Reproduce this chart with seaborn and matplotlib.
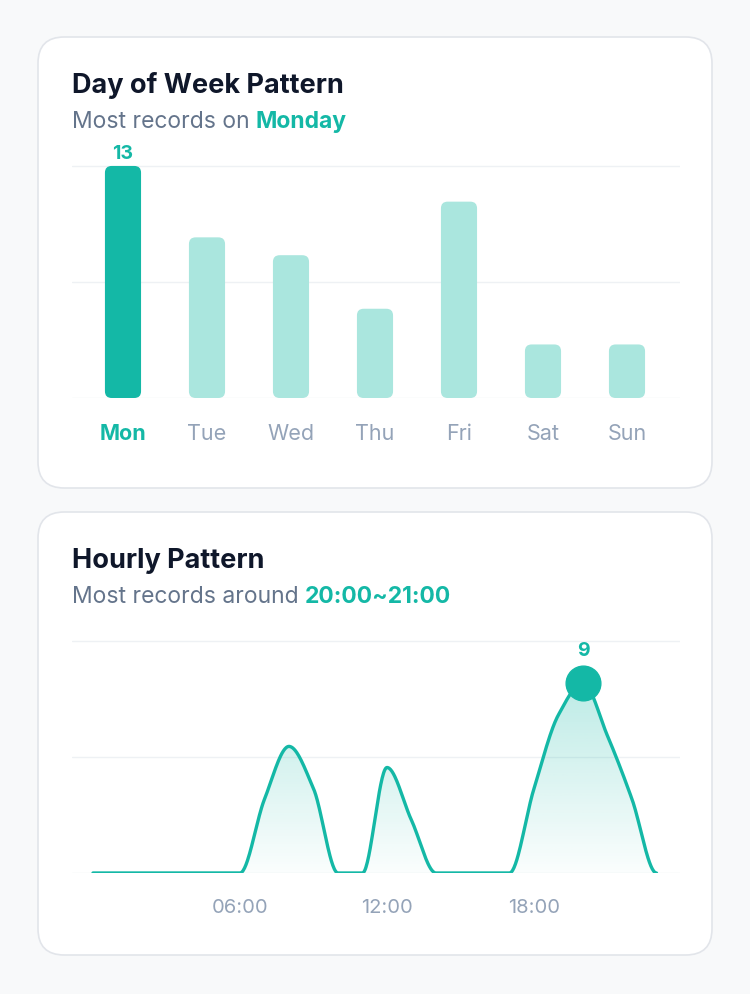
import numpy as np
import pandas as pd
import seaborn as sns
import matplotlib
matplotlib.use("Agg")
import matplotlib.pyplot as plt
from matplotlib.patches import FancyBboxPatch

days = ["Mon", "Tue", "Wed", "Thu", "Fri", "Sat", "Sun"]
day_counts = [13, 9, 8, 5, 11, 3, 3]
hours = list(range(24))
hour_counts = [0, 0, 0, 0, 0, 0, 0, 3.5, 6, 4, 0, 0, 5, 2.5, 0, 0, 0, 0, 4, 7.5, 9, 6.5, 3.5, 0]
hour_ticks = [6, 12, 18]
hour_labels = ["06:00", "12:00", "18:00"]

TEAL = "#14b8a6"
LIGHT = "#aae6de"
DARK = "#0f172a"
GRAY = "#64748b"
TICK = "#94a3b8"
GRID = "#eef1f4"

sns.set_theme(style="white")
plt.rcParams["font.family"] = ["Inter", "DejaVu Sans"]

W, H = 750, 995
fig = plt.figure(figsize=(7.5, 9.95), dpi=100)
fig.patch.set_facecolor("#f8f9fa")


def fx(px):
    return px / W


def fy(py):
    return 1 - py / H


def card(x0, y0, x1, y1):
    p = FancyBboxPatch((fx(x0), fy(y1)), fx(x1 - x0), (y1 - y0) / H,
                       boxstyle="round,pad=0,rounding_size=0.035",
                       mutation_aspect=W / H, transform=fig.transFigure,
                       facecolor="white", edgecolor="#e2e5ea", linewidth=1.2, zorder=-5)
    fig.patches.append(p)


card(38, 38, 712, 489)
card(38, 513, 712, 956)


def heading(y, title, sub, hl):
    fig.text(fx(72), fy(y), title, fontsize=19.5, fontweight="bold", color=DARK, va="center")
    t = fig.text(fx(72), fy(y + 36), sub, fontsize=16.5, color=GRAY, va="center")
    fig.canvas.draw()
    bb = t.get_window_extent()
    fig.text(bb.x1 / W + fx(6), fy(y + 36), hl, fontsize=16.5, fontweight="bold", color=TEAL, va="center")


heading(86, "Day of Week Pattern", "Most records on", "Monday")
heading(561, "Hourly Pattern", "Most records around", "20:00~21:00")

# ---- day of week bars
ax1 = fig.add_axes([fx(72), fy(399), fx(608), (399 - 150) / H])
df = pd.DataFrame({"day": days, "count": day_counts})
sns.barplot(data=df, x="day", y="count", ax=ax1, color=LIGHT, width=0.43)
ymax1 = 249 / 17.85
ax1.set_xlim(-0.607, 6.631)
ax1.set_ylim(0, ymax1)
asp = (ymax1 / 249) / (7.238 / 608)
best = int(np.argmax(day_counts))
for i, p in enumerate(list(ax1.patches)):
    x, y0 = p.get_x(), p.get_y()
    w, h = p.get_width(), p.get_height()
    p.set_visible(False)
    ax1.add_patch(FancyBboxPatch((x, y0), w, h, boxstyle="round,pad=0,rounding_size=0.08",
                                 mutation_aspect=asp, facecolor=TEAL if i == best else LIGHT,
                                 edgecolor="none", zorder=3))
for g in [0, 6.5, 13]:
    ax1.axhline(g, color=GRID, lw=1, zorder=0)
ax1.text(best, day_counts[best] + 0.2, str(day_counts[best]), ha="center", va="bottom",
         color=TEAL, fontsize=14, fontweight="bold", clip_on=False)
ax1.set_xlabel("")
ax1.set_ylabel("")
ax1.set_yticks([])
ax1.tick_params(axis="x", length=0, pad=18, labelsize=15.5)
for i, lab in enumerate(ax1.get_xticklabels()):
    lab.set_color(TEAL if i == best else TICK)
    if i == best:
        lab.set_fontweight("bold")
sns.despine(ax=ax1, left=True, bottom=True)
ax1.patch.set_alpha(0)

# ---- hourly curve
ax2 = fig.add_axes([fx(72), fy(874), fx(608), (874 - 630) / H])
xs = np.array(hours, float)
ys = np.array(hour_counts, float)


def pchip(x, y, n=800):
    h = np.diff(x)
    d = np.diff(y) / h
    m = np.zeros_like(y)
    for k in range(1, len(y) - 1):
        if d[k - 1] * d[k] > 0:
            w1 = 2 * h[k] + h[k - 1]
            w2 = h[k] + 2 * h[k - 1]
            m[k] = (w1 + w2) / (w1 / d[k - 1] + w2 / d[k])
    xx = np.linspace(x[0], x[-1], n)
    idx = np.clip(np.searchsorted(x, xx) - 1, 0, len(x) - 2)
    t = (xx - x[idx]) / h[idx]
    h00 = 2 * t**3 - 3 * t**2 + 1
    h10 = t**3 - 2 * t**2 + t
    h01 = -2 * t**3 + 3 * t**2
    h11 = t**3 - t**2
    yy = h00 * y[idx] + h10 * h[idx] * m[idx] + h01 * y[idx + 1] + h11 * h[idx] * m[idx + 1]
    return xx, yy


xx, yy = pchip(xs, ys)
ymax2 = 244 / 21.1
ax2.set_xlim(-0.857, 23.96)
ax2.set_ylim(0, ymax2)
for g in [0, 5.5, 11]:
    ax2.axhline(g, color=GRID, lw=1, zorder=0)
grad = np.linspace(0.02, 0.28, 256).reshape(-1, 1)
cols = np.zeros((256, 1, 4))
cols[..., :3] = matplotlib.colors.to_rgb(TEAL)
cols[..., 3] = grad
poly = ax2.fill_between(xx, yy, 0, color="none")
im = ax2.imshow(cols, extent=[xx[0], xx[-1], 0, 9], origin="lower", aspect="auto", zorder=1)
im.set_clip_path(poly.get_paths()[0], transform=ax2.transData)
sns.lineplot(x=xx, y=yy, ax=ax2, color=TEAL, lw=2.4, zorder=3)
pk = int(np.argmax(hour_counts))
ax2.plot([hours[pk]], [hour_counts[pk]], "o", ms=25, color=TEAL, zorder=4, clip_on=False)
ax2.text(hours[pk], hour_counts[pk] + 1.15, f"{hour_counts[pk]:g}", ha="center", va="bottom",
         color=TEAL, fontsize=14, fontweight="bold", clip_on=False)
ax2.set_xticks(hour_ticks)
ax2.set_xticklabels(hour_labels)
ax2.set_yticks([])
ax2.tick_params(axis="x", length=0, pad=18, labelsize=14.5, labelcolor=TICK)
sns.despine(ax=ax2, left=True, bottom=True)
ax2.patch.set_alpha(0)

fig.savefig("out.png", dpi=100, facecolor=fig.get_facecolor())
